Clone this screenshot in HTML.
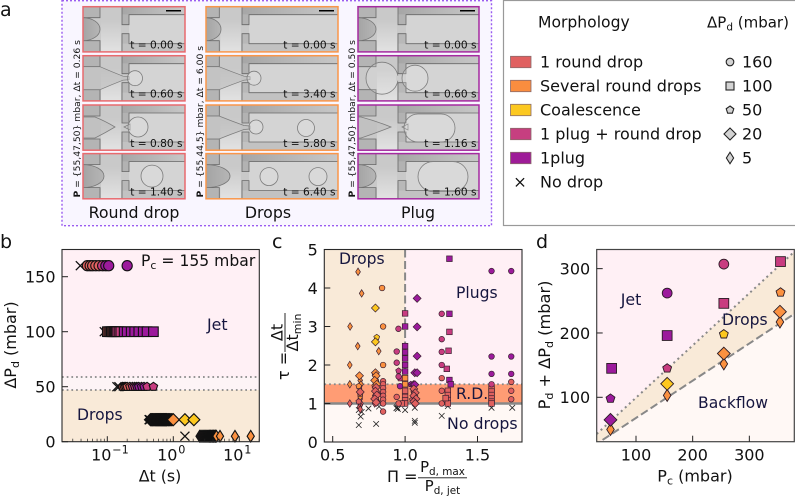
<!DOCTYPE html>
<html lang="en">
<head>
<meta charset="utf-8">
<title>Droplet morphology figure</title>
<style>
html,body{margin:0;padding:0;background:#fff;}
svg{display:block;}
text{font-family:"DejaVu Sans","Liberation Sans",sans-serif;fill:#111;}
.navy{fill:#16163f;}
</style>
</head>
<body>
<svg id="fig" xmlns="http://www.w3.org/2000/svg" width="795" height="497" viewBox="0 0 795 497">
  <defs>
    <clipPath id="clip-d"><rect x="596.7" y="249.5" width="197.6" height="192.2"/></clipPath>
    <linearGradient id="bulge-grad" x1="0" x2="1" y1="0" y2="0"><stop offset="0" stop-color="#a4a4a4"/><stop offset="1" stop-color="#b6b6b6"/></linearGradient>
    <linearGradient id="wall-grad" x1="0" x2="1" y1="0" y2="0"><stop offset="0" stop-color="#a6a6a6"/><stop offset="1" stop-color="#c8c8c8"/></linearGradient>
    <linearGradient id="glow-grad" x1="0" x2="0" y1="0" y2="1"><stop offset="0.3" stop-color="#fff" stop-opacity="0"/><stop offset="1" stop-color="#fff" stop-opacity="0.5"/></linearGradient>
    <filter id="soft" x="-5%" y="-5%" width="110%" height="110%"><feGaussianBlur stdDeviation="0.35"/></filter>
  </defs>

  <rect x="0" y="0" width="795" height="497" fill="#fff"/>

  <!-- Panel a -->
  <text x="0" y="16" font-size="19">a</text>
  <rect x="62" y="0.7" width="429.5" height="225" fill="#f9f6ff" stroke="#9a5cf0" stroke-width="1.4" stroke-dasharray="2 2"/>
  <g id="frames"></g>
  <text transform="translate(80,197.5) rotate(-90)" font-size="9.2"><tspan font-weight="bold">P</tspan> = {55,47,50} mbar, Δt = 0.26 s</text>
  <text transform="translate(203,197.5) rotate(-90)" font-size="9.2"><tspan font-weight="bold">P</tspan> = {55,44,5} mbar, Δt = 6.00 s</text>
  <text transform="translate(355,197.5) rotate(-90)" font-size="9.2"><tspan font-weight="bold">P</tspan> = {55,47,50} mbar, Δt = 0.50 s</text>
  <text x="134" y="218" font-size="15.8" text-anchor="middle">Round drop</text>
  <text x="268" y="218" font-size="15.8" text-anchor="middle">Drops</text>
  <text x="418" y="218" font-size="15.8" text-anchor="middle">Plug</text>

  <!-- Legend -->
  <rect x="503.5" y="0.5" width="295" height="225" fill="#fff" stroke="#999" stroke-width="1.2"/>
  <text x="538" y="27.5" font-size="15.6">Morphology</text>
  <text x="707" y="27.5" font-size="15">ΔP<tspan font-size="10.5" dy="3">d</tspan><tspan dy="-3"> (mbar)</tspan></text>
  <g id="legend"></g>
  <text x="540" y="67.5" font-size="16">1 round drop</text>
  <text x="540" y="91.5" font-size="16">Several round drops</text>
  <text x="540" y="115.5" font-size="16">Coalescence</text>
  <text x="540" y="139.5" font-size="16">1 plug + round drop</text>
  <text x="540" y="163.5" font-size="16">1plug</text>
  <text x="540" y="187.5" font-size="16">No drop</text>
  <text x="742" y="67.5" font-size="16">160</text>
  <text x="742" y="91.5" font-size="16">100</text>
  <text x="742" y="115.5" font-size="16">50</text>
  <text x="742" y="139.5" font-size="16">20</text>
  <text x="742" y="163.5" font-size="16">5</text>

  <!-- Panel b -->
  <text x="0" y="248" font-size="19">b</text>
  <g id="panel-b"></g>
  <text x="141" y="266" font-size="15.6">P<tspan font-size="11" dy="3">c</tspan><tspan dy="-3"> = 155 mbar</tspan></text>
  <text class="navy" x="207" y="330" font-size="15.8">Jet</text>
  <text class="navy" x="77" y="420" font-size="15.6">Drops</text>
  <text x="160" y="481.5" font-size="15.8" text-anchor="middle">Δt (s)</text>
  <text transform="translate(16,345) rotate(-90)" font-size="16" text-anchor="middle">ΔP<tspan font-size="11" dy="3">d</tspan><tspan dy="-3"> (mbar)</tspan></text>

  <!-- Panel c -->
  <text x="272" y="248" font-size="19">c</text>
  <g id="panel-c"></g>
  <text class="navy" x="339" y="264" font-size="15.6">Drops</text>
  <text class="navy" x="456" y="298" font-size="15.6">Plugs</text>
  <text class="navy" x="456" y="399" font-size="15.6">R.D.</text>
  <text class="navy" x="447" y="429" font-size="15.8">No drops</text>
  <text x="387" y="482" font-size="16">Π =</text>
  <text x="442.5" y="472" font-size="14.8" text-anchor="middle">P<tspan font-size="10.4" dy="3">d, max</tspan></text>
  <line x1="418" x2="467" y1="477.8" y2="477.8" stroke="#111" stroke-width="0.9"/>
  <text x="442.5" y="491" font-size="14.8" text-anchor="middle">P<tspan font-size="10.4" dy="3">d, jet</tspan></text>
  <text transform="translate(289,380) rotate(-90)" font-size="16">τ =</text>
  <text transform="translate(282.7,332.5) rotate(-90)" font-size="16" text-anchor="middle">Δt</text>
  <line x1="285" x2="285" y1="313" y2="352" stroke="#111" stroke-width="0.9"/>
  <text transform="translate(298,332.5) rotate(-90)" font-size="16" text-anchor="middle">Δt<tspan font-size="11" dy="3">min</tspan></text>

  <!-- Panel d -->
  <text x="536" y="248" font-size="19">d</text>
  <g id="panel-d"></g>
  <text class="navy" x="620.7" y="305" font-size="15.8">Jet</text>
  <text class="navy" x="722" y="325" font-size="15.6">Drops</text>
  <text class="navy" x="698" y="408" font-size="15.6">Backflow</text>
  <text x="695" y="481.5" font-size="16" text-anchor="middle">P<tspan font-size="11" dy="3">c</tspan><tspan dy="-3"> (mbar)</tspan></text>
  <text transform="translate(550,345) rotate(-90)" font-size="16.2" text-anchor="middle">P<tspan font-size="11" dy="3">d</tspan><tspan dy="-3"> + ΔP</tspan><tspan font-size="11" dy="3">d</tspan><tspan dy="-3"> (mbar)</tspan></text>
</svg>

<script>
// ---------- colour key ----------
const morphNames = ['R', 'S', 'C', 'M', 'P'];
const morphColors = {R:'#e1615f', S:'#fb9140', C:'#fdc81f', M:'#c83c80', P:'#9c1a9c'};

// ---------- panel b data ----------
const bXTicks = [0.1, 1, 10];
const bYTicks = [0, 50, 100, 150];
const bThresholds = [47, 58.8];

const b160Levels = 160;
const b160Dt = [0.039, 0.05, 0.055, 0.06, 0.067, 0.075, 0.085, 0.095, 0.105, 0.2];
const b160Morph = ['X','R','R','R','R','R','M','P','P','P'];

const b100Level = 100;
const b100Dt = [0.09, 0.1, 0.105, 0.11, 0.115, 0.12, 0.125, 0.13, 0.135, 0.14, 0.15, 0.16, 0.18, 0.2, 0.23, 0.26, 0.3, 0.35, 0.4, 0.5];
const b100Morph = ['X','R','R','R','R','R','R','R','M','M','M','M','P','P','P','P','P','P','P','P'];

const b50Level = 50;
const b50Dt = [0.14, 0.15, 0.17, 0.18, 0.19, 0.2, 0.22, 0.24, 0.26, 0.28, 0.3, 0.33, 0.36, 0.4, 0.5];
const b50Morph = ['X','X','R','R','R','R','R','M','M','P','P','P','P','M','M'];

const b20Level = 20;
const b20Dt = [0.43, 0.44, 0.45, 0.46, 0.47, 0.48, 0.49, 0.5, 0.51, 0.52, 0.53, 0.54, 0.55, 0.56, 0.57, 0.58, 0.59, 0.6, 0.61, 0.62, 0.63, 0.64, 0.65, 0.66, 0.67, 0.68, 0.69, 0.7, 0.71, 0.72, 0.73, 0.74, 0.75, 0.76, 0.77, 0.78, 0.79, 0.8, 0.82, 0.84, 0.86, 0.88, 0.9, 0.93, 0.96, 1.0, 1.5, 2.05];
const b20Morph = ['X','X','R','R','R','R','R','R','R','R','R','R','S','S','S','S','S','S','S','S','S','S','S','S','S','S','S','S','S','S','S','S','S','S','S','S','S','S','S','S','S','S','S','S','S','S','C','C'];

const b5Level = 5;
const b5Dt = [1.5, 2.5, 2.6, 2.7, 2.8, 2.9, 3.0, 3.1, 3.2, 3.3, 3.4, 3.5, 3.6, 3.7, 3.8, 3.9, 4.0, 4.1, 4.2, 4.3, 4.4, 4.5, 5.1, 8.6, 14.9];
const b5Morph = ['X','R','R','R','R','R','R','R','S','S','S','S','S','S','S','S','S','S','S','S','S','S','S','S','S'];

// ---------- panel c data ----------
const cXTicks = [0.5, 1.0, 1.5];
const cYTicks = [0, 1, 2, 3, 4, 5];

const cThinPi = [0.675, 0.70, 0.62, 0.673, 0.618, 0.618, 0.618, 0.818, 0.69, 0.695, 0.685, 0.695, 0.69, 0.69, 0.685, 0.695, 0.69, 0.685, 0.69, 0.69, 0.79, 0.80, 0.81, 0.795, 0.805, 0.79, 0.80, 0.81, 0.79, 0.80];
const cThinTau = [4.42, 3.86, 3.0, 2.49, 2.0, 1.5, 1.0, 2.36, 1.6, 1.5, 1.4, 1.3, 1.2, 1.12, 1.05, 1.0, 0.95, 0.9, 0.85, 1.17, 1.75, 1.62, 1.5, 1.4, 1.3, 1.2, 1.1, 1.05, 1.0, 1.15];
const cThinMorph = ['S','S','S','S','S','S','R','S','S','S','S','S','S','R','R','R','R','R','R','S','S','S','S','R','R','R','R','R','R','R'];

const cPentPi = [0.804, 0.68, 0.69, 0.68, 0.80, 0.79, 0.81, 0.80, 0.955, 0.965, 1.04, 1.06, 1.05];
const cPentTau = [2.72, 1.45, 1.25, 1.05, 1.55, 1.45, 1.25, 1.05, 1.85, 1.65, 1.5, 1.3, 1.1];
const cPentMorph = ['C','S','S','R','S','S','R','R','M','M','P','R','R'];

const cBigPi = [0.795, 0.795, 0.685, 0.69, 0.795, 0.80, 0.79, 0.805, 0.80, 0.795, 0.805, 0.79, 0.80, 1.083, 1.083, 1.083, 1.067, 1.083, 1.058, 1.067, 1.06, 1.07, 1.06, 1.075, 1.06, 1.07];
const cBigTau = [3.48, 2.6, 1.72, 1.3, 1.8, 1.72, 1.6, 1.5, 1.42, 1.32, 1.22, 1.12, 1.03, 3.73, 2.99, 2.23, 1.8, 1.8, 1.49, 1.49, 1.38, 1.28, 1.2, 1.12, 1.05, 1.0];
const cBigMorph = ['C','C','S','R','S','S','S','S','R','R','R','R','R','P','P','P','P','P','P','P','R','R','R','R','R','R'];

const cCirclePi = [1.597, 1.733, 1.253, 1.253, 1.253, 1.253, 1.253, 1.253, 1.253, 1.597, 1.733, 1.597, 1.733, 1.597, 1.733, 1.733, 1.733, 0.841, 0.848, 0.848, 0.848, 0.848, 0.848, 0.848, 0.848, 0.848, 0.848, 0.848, 0.954, 0.942, 0.942, 0.955, 0.965, 0.942, 0.955];
const cCircleTau = [4.44, 4.44, 3.33, 2.67, 2.34, 2.0, 1.66, 1.33, 1.0, 2.22, 2.22, 1.77, 1.77, 1.5, 1.56, 1.33, 1.11, 4.0, 3.0, 2.0, 1.58, 1.5, 1.4, 1.3, 1.2, 1.1, 1.0, 0.79, 2.94, 2.35, 2.06, 1.7, 1.45, 1.17, 1.0];
const cCircleMorph = ['P','P','M','M','M','M','R','R','R','P','P','P','P','M','R','R','R','S','S','S','R','R','R','R','R','R','R','R','M','M','M','M','P','R','R'];

const cSquarePi = [1.306, 1.0, 1.0, 1.0, 1.0, 1.0, 1.0, 1.0, 1.0, 1.0, 1.0, 1.0, 1.0, 1.0, 0.977, 1.306, 1.306, 1.30, 1.288, 1.306, 1.315, 1.295, 1.295, 1.295, 1.295, 1.28, 1.597, 1.597, 1.597, 1.597, 1.597, 1.597];
const cSquareTau = [4.76, 3.34, 3.0, 2.49, 2.33, 2.17, 2.0, 1.83, 1.66, 1.5, 1.33, 1.17, 1.08, 1.0, 1.0, 3.33, 2.86, 2.37, 1.9, 1.61, 1.5, 1.33, 1.22, 1.09, 1.0, 1.14, 1.39, 1.31, 1.22, 1.13, 1.05, 1.0];
const cSquareMorph = ['P','M','P','P','P','P','P','P','S','S','R','R','R','R','R','P','M','M','M','P','P','R','R','R','R','R','R','R','R','R','R','R'];

const cNoDropPi = [0.68, 0.693, 0.68, 0.70, 0.747, 0.80, 0.82, 0.94, 0.945, 0.95, 1.0, 1.067, 1.067, 1.067, 1.253, 1.295, 1.597, 1.74];
const cNoDropTau = [0.44, 0.66, 0.83, 0.78, 0.87, 0.47, 0.92, 0.88, 0.9, 0.86, 0.83, 0.89, 0.5, 0.55, 0.68, 0.93, 0.89, 0.89];

// ---------- panel d data ----------
const dXTicks = [100, 200, 300];
const dYTicks = [100, 200, 300];
const dJetLineX = [30.6, 379];
const dJetLineY = [43, 326];
const dBackLineX = [41, 379];
const dBackLineY = [33.7, 229.5];

const dCirclePc = [155, 255];
const dCircleSum = [262, 307];
const dCircleMorph = ['P', 'M'];
const dSquarePc = [57, 155, 255, 355];
const dSquareSum = [145, 196, 246, 311];
const dSquareMorph = ['P', 'P', 'M', 'M'];
const dPentPc = [55, 155, 255, 355];
const dPentSum = [98, 145, 198, 263];
const dPentMorph = ['P', 'M', 'C', 'S'];
const dBigPc = [55, 155, 255, 354];
const dBigSum = [65, 121, 168, 233];
const dBigMorph = ['P', 'C', 'S', 'S'];
const dThinPc = [55, 155, 255, 354];
const dThinSum = [50, 103, 152, 217];
const dThinMorph = ['S', 'S', 'S', 'S'];

// ---------- micrograph data ----------
const frameTimes = [
  ['0.00', '0.60', '0.80', '1.40'],
  ['0.00', '3.40', '5.80', '6.40'],
  ['0.00', '0.60', '1.16', '1.60']
];

// ---------- helpers ----------
const SVGNS = 'http://www.w3.org/2000/svg';
function add(parent, tag, attrs, name) {
  const el = document.createElementNS(SVGNS, tag);
  for (const k in attrs) el.setAttribute(k, attrs[k]);
  
  
  parent.appendChild(el);
  return el;
}

function marker(g, shape, cx, cy, s, fill, stroke, sw, name) {
  const r = s / 2;
  const common = {fill: fill, stroke: stroke, 'stroke-width': sw};
  if (shape === 'circle') {
    add(g, 'circle', Object.assign({cx: cx, cy: cy, r: r}, common), name);
  } else if (shape === 'square') {
    add(g, 'rect', Object.assign({x: cx - r, y: cy - r, width: s, height: s}, common), name);
  } else if (shape === 'pent') {
    const pts = [];
    for (let i = 0; i < 5; i++) {
      const a = -Math.PI / 2 + i * 2 * Math.PI / 5;
      pts.push((cx + r * 1.08 * Math.cos(a)).toFixed(2) + ',' + (cy + r * 1.08 * Math.sin(a)).toFixed(2));
    }
    add(g, 'polygon', Object.assign({points: pts.join(' ')}, common), name);
  } else if (shape === 'big') {
    const p = r;
    add(g, 'polygon', Object.assign({points: `${cx},${cy - p} ${cx + p},${cy} ${cx},${cy + p} ${cx - p},${cy}`}, common), name);
  } else if (shape === 'thin') {
    const h = r, w = r * 0.63;
    add(g, 'polygon', Object.assign({points: `${cx},${cy - h} ${cx + w},${cy} ${cx},${cy + h} ${cx - w},${cy}`}, common), name);
  } else if (shape === 'x') {
    add(g, 'path', {d: `M${cx - r},${cy - r}L${cx + r},${cy + r}M${cx - r},${cy + r}L${cx + r},${cy - r}`, fill: 'none', stroke: stroke, 'stroke-width': sw}, name);
  }
}

function drawFrame(g, left, top, right, bottom) {
  add(g, 'rect', {x: left, y: top, width: right - left, height: bottom - top, fill: 'none', stroke: '#2a2a2a', 'stroke-width': 1.1}, 'axes-frame');
}

function tick(g, x1, y1, x2, y2, w, name) {
  add(g, 'line', {x1: x1, y1: y1, x2: x2, y2: y2, stroke: '#222', 'stroke-width': w}, name);
}

function label(g, x, y, str, anchor, size, name) {
  const t = add(g, 'text', {x: x, y: y, 'text-anchor': anchor, 'font-size': size}, name);
  t.textContent = str;
  return t;
}

// ---------- panel a ----------
(function () {
  const g = document.getElementById('frames');
  const colX = [83, 206, 358];
  const colW = [102, 132, 121];
  const colStroke = ['#e86a6e', '#f9964a', '#a52aa0'];
  const wallA = [17, 13.3, 18];
  const wallB = [39, 36, 40];
  const wallC = [46, 43, 48];
  const rowY = [6.7, 55.7, 105, 153.6];
  const rowH = 45.2;
  const BL = 'rgba(235,235,235,0.22)';
  const EDGE = '#7c7c7c';

  function drop(p, cx, cy, r, nm) {
    add(p, 'circle', {cx: cx, cy: cy, r: r, fill: BL, stroke: EDGE, 'stroke-width': 0.8}, nm);
  }
  function bulge(p, rx) {
    add(p, 'path', {d: `M0,11 A${rx},11.5 0 0 1 0,34 Z`, fill: 'url(#bulge-grad)', stroke: '#777', 'stroke-width': 0.8}, 'dispersed-phase-bulge');
  }
  function neck(p, a, b, r, n) {
    const m = (a + b) / 2;
    add(p, 'path', {d: `M0,11 L${a},11 Q${m},16 ${b},20.5 L${n},21 L${n},24 L${b},24.5 Q${m},29 ${a},34 L0,34 Z`, fill: 'rgba(190,190,190,0.55)', stroke: EDGE, 'stroke-width': 0.7}, 'liquid-neck');
  }
  function wedge(p, x0, tip) {
    add(p, 'path', {d: `M${x0},12 Q${(x0 + tip) / 2},16 ${tip},22 Q${(x0 + tip) / 2},28 ${x0},33 L0,33 L0,12 Z`, fill: 'rgba(185,185,185,0.5)', stroke: EDGE, 'stroke-width': 0.75}, 'retracting-wedge');
  }
  function plug(p, x, w, y, h) {
    add(p, 'rect', {x: x, y: y, width: w, height: h, rx: h / 2, ry: h / 2, fill: BL, stroke: EDGE, 'stroke-width': 0.8}, 'plug-shape');
  }

  const painters = [
    [
      p => bulge(p, 17),
      p => { neck(p, 17, 40, 7.5, 46); drop(p, 52, 22.5, 7.5, 'forming-drop'); },
      p => { wedge(p, 12, 32); add(p, 'path', {d: 'M41,22 L47,19 L47,25 Z', fill: 'none', stroke: EDGE, 'stroke-width': 0.7}, 'pinch-cone'); drop(p, 55, 22, 10, 'forming-drop'); },
      p => { bulge(p, 21); drop(p, 69, 22.5, 11, 'released-drop'); }
    ],
    [
      p => bulge(p, 15),
      p => { neck(p, 13, 38, 7, 44); drop(p, 48, 22.5, 7, 'forming-drop'); },
      p => { neck(p, 13, 38, 7, 44); drop(p, 50, 22, 7, 'forming-drop'); drop(p, 100, 23, 8.5, 'released-drop'); },
      p => { bulge(p, 24); drop(p, 63, 23, 9, 'released-drop-1'); drop(p, 112, 23, 9, 'released-drop-2'); }
    ],
    [
      p => bulge(p, 18),
      p => { drop(p, 24, 22.5, 16, 'swelling-bulb'); add(p, 'rect', {x: 38, y: 20, width: 8, height: 5, fill: '#cdcdcd'}, 'liquid-bridge'); drop(p, 57, 22.5, 13, 'forming-plug'); },
      p => { wedge(p, 3, 33); add(p, 'path', {d: 'M44,22 L50,19 L50,25 Z', fill: 'none', stroke: EDGE, 'stroke-width': 0.7}, 'pinch-cone'); plug(p, 46, 51, 9, 28); },
      p => { bulge(p, 18); plug(p, 60, 50, 8, 30); }
    ]
  ];

  for (let c = 0; c < 3; c++) {
    for (let r = 0; r < 4; r++) {
      const w = colW[c], h = rowH;
      const cell = add(g, 'g', {transform: `translate(${colX[c]},${rowY[r]})`}, 'micrograph-' + c + '-' + r);
      const clipId = `cf${c}${r}`;
      const cp = add(cell, 'clipPath', {id: clipId}, 'micrograph-clip');
      add(cp, 'rect', {x: 0, y: 0, width: w, height: h}, 'micrograph-clip-rect');
      const outer = add(cell, 'g', {'clip-path': `url(#${clipId})`}, 'micrograph-image');
      const inner = add(outer, 'g', {filter: 'url(#soft)'}, 'micrograph-content');
      const A = wallA[c], B = wallB[c], C = wallC[c];
      add(inner, 'rect', {x: -2, y: -2, width: w + 4, height: h + 4, fill: '#c9c9c9'}, 'micrograph-background');
      add(inner, 'rect', {x: C, y: 8, width: w - C + 2, height: 29, fill: '#d4d4d4'}, 'channel-lumen');
      add(inner, 'rect', {x: A + 1, y: -2, width: B - A - 2, height: h + 4, fill: 'url(#glow-grad)'}, 'light-glow');
      add(inner, 'rect', {x: B, y: -2, width: w - B + 2, height: 10, fill: 'url(#wall-grad)'}, 'wall-top');
      add(inner, 'rect', {x: B, y: 37, width: w - B + 2, height: 11, fill: '#c2c2c2'}, 'wall-bottom');
      add(inner, 'rect', {x: B, y: 8, width: C - B, height: 10, fill: '#b2b2b2'}, 'pillar-top');
      add(inner, 'rect', {x: B, y: 27, width: C - B, height: 10, fill: '#b8b8b8'}, 'pillar-bottom');
      add(inner, 'rect', {x: -2, y: -2, width: A + 2, height: 13, fill: '#b4b4b4'}, 'inlet-wall-top');
      add(inner, 'rect', {x: -2, y: 34, width: A + 2, height: 14, fill: '#b4b4b4'}, 'inlet-wall-bottom');
      add(inner, 'path', {d: `M${A},-2 V11 H-2 M${A},48 V34 H-2 M${B},-2 V18 H${C} V8 H${w + 2} M${B},48 V27 H${C} V37 H${w + 2}`, fill: 'none', stroke: '#686868', 'stroke-width': 0.8}, 'channel-walls');
      painters[c][r](inner);
      add(cell, 'rect', {x: 0, y: 0, width: w, height: h, fill: 'none', stroke: colStroke[c], 'stroke-width': 1.5}, 'micrograph-border');
      if (r === 0) {
        add(cell, 'rect', {x: w - 19, y: 3.3, width: 15, height: 1.5, fill: '#000'}, 'scale-bar');
      }
      const t = add(cell, 'text', {x: w - 2.5, y: h - 3.4, 'text-anchor': 'end', 'font-size': 10.6}, 'time-label');
      t.textContent = 't = ' + frameTimes[c][r] + ' s';
    }
  }
})();

// ---------- legend ----------
(function () {
  const g = document.getElementById('legend');
  const rowYs = [62, 86, 110, 134, 158];
  const sw = {R:'#e06060', S:'#fa8d3f', C:'#fcc820', M:'#c63f80', P:'#9e1b98'};
  morphNames.forEach((m, i) => {
    add(g, 'rect', {x: 510.5, y: rowYs[i] - 5.7, width: 20.5, height: 11.4, fill: sw[m], stroke: '#8a6a6a', 'stroke-width': 0.8}, 'legend-swatch-' + m);
  });
  marker(g, 'x', 520, 182.3, 8.2, 'none', '#111', 1.3, 'legend-no-drop-marker');
  const gray = '#d3d3d3';
  marker(g, 'circle', 730, 62, 7.6, gray, '#222', 1.1, 'legend-marker-160');
  marker(g, 'square', 730, 86, 8, gray, '#222', 1.1, 'legend-marker-100');
  marker(g, 'pent', 730, 110, 7.4, gray, '#222', 1.1, 'legend-marker-50');
  marker(g, 'big', 730, 134, 12, gray, '#222', 1.1, 'legend-marker-20');
  marker(g, 'thin', 730, 158, 11.5, gray, '#222', 1.1, 'legend-marker-5');
})();

// ---------- panel b ----------
const bLeft = 62, bRight = 259.3, bTop = 249.5, bBottom = 441.7;
function xB(v) { return 173.3 + 66 * Math.log10(v); }
function yB(v) { return bBottom - 1.1 * v; }

(function () {
  const g = document.getElementById('panel-b');
  add(g, 'rect', {x: bLeft, y: bTop, width: bRight - bLeft, height: bBottom - bTop, fill: '#fff0f5'}, 'jet-region');
  add(g, 'rect', {x: bLeft, y: yB(bThresholds[1]), width: bRight - bLeft, height: yB(bThresholds[0]) - yB(bThresholds[1]), fill: '#fdf4f6'}, 'transition-region');
  add(g, 'rect', {x: bLeft, y: yB(bThresholds[0]), width: bRight - bLeft, height: bBottom - yB(bThresholds[0]), fill: '#f9ead8'}, 'drops-region');
  bThresholds.forEach(t => {
    add(g, 'line', {x1: bLeft, x2: bRight, y1: yB(t), y2: yB(t), stroke: '#888', 'stroke-width': 1.7, 'stroke-dasharray': '1.7 3'}, 'threshold-line');
  });

  function row(level, dts, morphs, shape, size) {
    dts.forEach((d, i) => {
      const m = morphs[i];
      if (m === 'X') {
        marker(g, 'x', xB(d), yB(level), 9, 'none', '#111', 1.3, 'no-drop-point');
      } else {
        marker(g, shape, xB(d), yB(level), size, morphColors[m], '#111', 1.1, 'point-' + level + '-' + i);
      }
    });
  }
  row(b160Levels, b160Dt, b160Morph, 'circle', 10.2);
  row(b100Level, b100Dt, b100Morph, 'square', 9.6);
  row(b50Level, b50Dt, b50Morph, 'pent', 8.2);
  row(b20Level, b20Dt, b20Morph, 'big', 12);
  row(b5Level, b5Dt, b5Morph, 'thin', 11.5);

  drawFrame(g, bLeft, bTop, bRight, bBottom);
  bYTicks.forEach(v => {
    tick(g, bLeft, yB(v), bLeft + 6, yB(v), 1, 'y-tick');
    label(g, bLeft - 6.5, yB(v) + 5.8, String(v), 'end', 16, 'y-tick-label');
  });
  for (let dec = -2; dec <= 1; dec++) {
    for (let k = 1; k <= 9; k++) {
      const v = k * Math.pow(10, dec);
      const px = xB(v);
      if (px <= bLeft || px >= bRight) continue;
      tick(g, px, bBottom, px, bBottom - (k === 1 ? 5.5 : 3), k === 1 ? 1 : 0.7, k === 1 ? 'x-major-tick' : 'x-minor-tick');
    }
  }
  bXTicks.forEach(v => {
    const t = add(g, 'text', {x: xB(v) - 6, y: 460.5, 'text-anchor': 'middle', 'font-size': 16}, 'x-tick-label');
    t.textContent = '10';
    const e = add(g, 'text', {x: xB(v) + 5, y: 453.5, 'text-anchor': 'start', 'font-size': 11.2}, 'x-tick-exponent');
    e.textContent = String(Math.round(Math.log10(v))).replace('-', '\u2212');
  });
})();

// ---------- panel c ----------
const cLeft = 324.3, cRight = 522, cTop = 249.5, cBottom = 442;
function xC(v) { return 332.7 + 144.8 * (v - 0.5); }
function yC(v) { return cBottom - 38.5 * v; }

(function () {
  const g = document.getElementById('panel-c');
  add(g, 'rect', {x: cLeft, y: cTop, width: cRight - cLeft, height: cBottom - cTop, fill: '#fff8f5'}, 'no-drops-region');
  add(g, 'rect', {x: cLeft, y: cTop, width: xC(1) - cLeft, height: yC(1.5) - cTop, fill: '#f9ead8'}, 'drops-region');
  add(g, 'rect', {x: xC(1), y: cTop, width: cRight - xC(1), height: yC(1.5) - cTop, fill: '#fff0f5'}, 'plugs-region');
  add(g, 'rect', {x: cLeft, y: yC(1.5), width: cRight - cLeft, height: yC(1) - yC(1.5), fill: '#ff9c74'}, 'round-drop-region');
  add(g, 'line', {x1: xC(1), x2: xC(1), y1: cTop, y2: yC(1.5), stroke: '#888', 'stroke-width': 2, 'stroke-dasharray': '8 3.5'}, 'pi-threshold-line');
  add(g, 'line', {x1: cLeft, x2: cRight, y1: yC(1.5), y2: yC(1.5), stroke: '#888', 'stroke-width': 1.8, 'stroke-dasharray': '1.8 3'}, 'tau-upper-line');
  add(g, 'line', {x1: cLeft, x2: cRight, y1: yC(1), y2: yC(1), stroke: '#888', 'stroke-width': 2.4}, 'tau-lower-line');

  cNoDropPi.forEach((p, i) => {
    marker(g, 'x', xC(p), yC(cNoDropTau[i]), 5.6, 'none', '#222', 0.8, 'no-drop-point');
  });
  function series(px, ty, ms, shape, size, nm) {
    px.forEach((p, i) => {
      marker(g, shape, xC(p), yC(ty[i]), size, morphColors[ms[i]], '#3a2030', 0.7, nm + '-point');
    });
  }
  series(cThinPi, cThinTau, cThinMorph, 'thin', 7.5, 'thin-diamond');
  series(cPentPi, cPentTau, cPentMorph, 'pent', 5.6, 'pentagon');
  series(cBigPi, cBigTau, cBigMorph, 'big', 8, 'diamond');
  series(cSquarePi, cSquareTau, cSquareMorph, 'square', 5.6, 'square');
  series(cCirclePi, cCircleTau, cCircleMorph, 'circle', 5.6, 'circle');

  drawFrame(g, cLeft, cTop, cRight, cBottom);
  cYTicks.forEach(v => {
    tick(g, cLeft, yC(v), cLeft + 6, yC(v), 1, 'y-tick');
    label(g, cLeft - 6.5, yC(v) + 5.8, String(v), 'end', 16, 'y-tick-label');
  });
  cXTicks.forEach(v => {
    tick(g, xC(v), cBottom, xC(v), cBottom - 6, 1, 'x-tick');
    label(g, xC(v), 460.5, v.toFixed(1), 'middle', 16, 'x-tick-label');
  });
})();

// ---------- panel d ----------
const dLeft = 596.7, dRight = 794.3, dTop = 249.5, dBottom = 441.7;
function xD(v) { return 636 + 0.5667 * (v - 100); }
function yD(v) { return 397.3 - 0.6433 * (v - 100); }

(function () {
  const g = document.getElementById('panel-d');
  const c = add(g, 'g', {'clip-path': 'url(#clip-d)'}, 'plot-area');
  add(c, 'rect', {x: dLeft, y: dTop, width: dRight - dLeft, height: dBottom - dTop, fill: '#fff0f5'}, 'jet-region');
  const jx0 = xD(dJetLineX[0]), jy0 = yD(dJetLineY[0]), jx1 = xD(dJetLineX[1]), jy1 = yD(dJetLineY[1]);
  const bx0 = xD(dBackLineX[0]), by0 = yD(dBackLineY[0]), bx1 = xD(dBackLineX[1]), by1 = yD(dBackLineY[1]);
  add(c, 'polygon', {points: `${jx0},${jy0} ${jx1},${jy1} ${bx1},${by1} ${bx0},${by0} ${dLeft},${dBottom}`, fill: '#f9ead8'}, 'drops-region');
  add(c, 'polygon', {points: `${bx0},${by0} ${bx1},${by1} ${dRight},${dBottom} ${bx0},${dBottom}`, fill: '#fff8f5'}, 'backflow-region');
  add(c, 'line', {x1: jx0, y1: jy0, x2: jx1, y2: jy1, stroke: '#888', 'stroke-width': 2, 'stroke-dasharray': '2 3.5'}, 'jet-boundary-line');
  add(c, 'line', {x1: bx0, y1: by0, x2: bx1, y2: by1, stroke: '#888', 'stroke-width': 2, 'stroke-dasharray': '8 3.5'}, 'backflow-boundary-line');

  function series(px, py, ms, shape, size, nm) {
    px.forEach((p, i) => {
      marker(c, shape, xD(p), yD(py[i]), size, morphColors[ms[i]], '#2a1a24', 0.9, nm + '-point');
    });
  }
  series(dThinPc, dThinSum, dThinMorph, 'thin', 12, 'thin-diamond');
  series(dBigPc, dBigSum, dBigMorph, 'big', 12.8, 'diamond');
  series(dPentPc, dPentSum, dPentMorph, 'pent', 8.6, 'pentagon');
  series(dSquarePc, dSquareSum, dSquareMorph, 'square', 9.8, 'square');
  series(dCirclePc, dCircleSum, dCircleMorph, 'circle', 9.8, 'circle');

  add(g, 'rect', {x: dLeft, y: dTop, width: dRight - dLeft, height: dBottom - dTop, fill: 'none', stroke: '#444', 'stroke-width': 1.2}, 'axes-frame');
  dYTicks.forEach(v => {
    tick(g, dLeft, yD(v), dLeft + 6, yD(v), 1, 'y-tick');
    label(g, dLeft - 6.5, yD(v) + 5.8, String(v), 'end', 16, 'y-tick-label');
  });
  dXTicks.forEach(v => {
    tick(g, xD(v), dBottom, xD(v), dBottom - 6, 1, 'x-tick');
    label(g, xD(v), 460.5, String(v), 'middle', 16, 'x-tick-label');
  });
})();
</script>
</body>
</html>
